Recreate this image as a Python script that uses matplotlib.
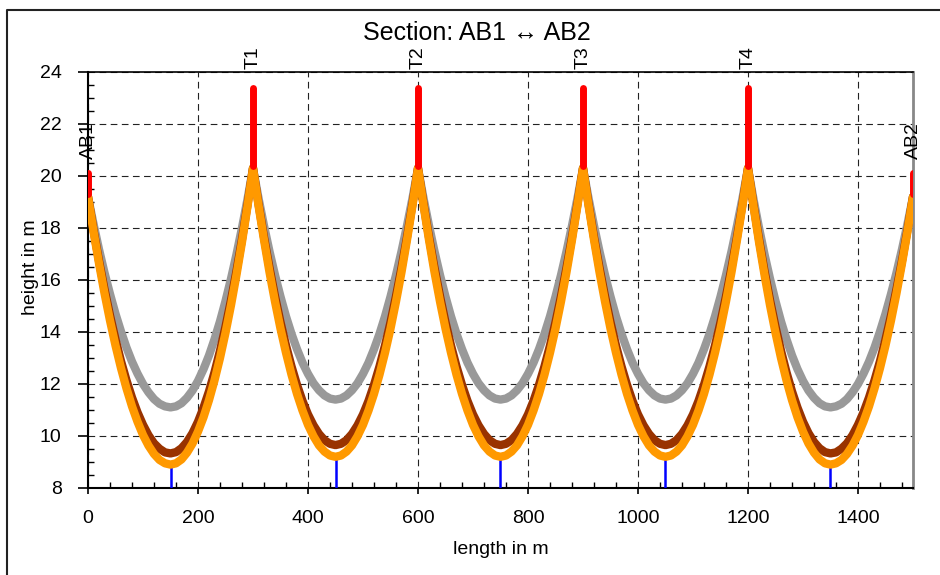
# Sag profile of the section AB1 <-> AB2 (three conductor states)

import numpy as np
import matplotlib.pyplot as plt
from matplotlib.lines import Line2D
from matplotlib.ticker import MultipleLocator

plt.rcParams['font.family'] = ['Liberation Sans', 'DejaVu Sans']

# supports
tower_x = [0, 300, 600, 900, 1200, 1500]
tower_names = ["AB1", "T1", "T2", "T3", "T4", "AB2"]
tower_top = [20.1, 23.4, 23.4, 23.4, 23.4, 20.1]
attach_height = [19.2, 20.3, 20.3, 20.3, 20.3, 19.2]

# heights read every 10 m along a 300 m span (offset from left support)
span_offsets = list(range(0, 301, 10))
# end span (AB1 -> T1), mirrored for T4 -> AB2
gray_end = [19.20, 18.16, 17.18, 16.28, 15.46, 14.70, 14.02, 13.40, 12.86, 12.40, 12.00, 11.68, 11.42, 11.24, 11.14, 11.10,
            11.14, 11.26, 11.47, 11.75, 12.12, 12.57, 13.10, 13.72, 14.41, 15.19, 16.05, 16.99, 18.01, 19.11, 20.30]
brown_end = [19.20, 17.93, 16.74, 15.65, 14.64, 13.72, 12.88, 12.14, 11.48, 10.91, 10.43, 10.03, 9.72, 9.51, 9.37, 9.33,
             9.38, 9.53, 9.77, 10.11, 10.55, 11.09, 11.72, 12.45, 13.28, 14.21, 15.23, 16.35, 17.57, 18.89, 20.30]
orange_end = [19.20, 17.87, 16.64, 15.49, 14.44, 13.48, 12.61, 11.83, 11.14, 10.55, 10.04, 9.63, 9.31, 9.08, 8.95, 8.90,
              8.95, 9.10, 9.36, 9.71, 10.17, 10.72, 11.38, 12.14, 13.00, 13.97, 15.03, 16.20, 17.46, 18.83, 20.30]
# inner spans (T1 -> T2 ... T3 -> T4)
gray_mid = [20.30, 19.15, 18.09, 17.10, 16.19, 15.36, 14.60, 13.93, 13.34, 12.82, 12.39, 12.03, 11.76, 11.56, 11.44, 11.40,
            11.44, 11.56, 11.76, 12.03, 12.39, 12.82, 13.34, 13.93, 14.60, 15.36, 16.19, 17.10, 18.09, 19.15, 20.30]
brown_mid = [20.30, 18.93, 17.65, 16.47, 15.38, 14.38, 13.48, 12.68, 11.97, 11.35, 10.83, 10.41, 10.08, 9.84, 9.70, 9.65,
             9.70, 9.84, 10.08, 10.41, 10.83, 11.35, 11.97, 12.68, 13.48, 14.38, 15.38, 16.47, 17.65, 18.93, 20.30]
orange_mid = [20.30, 18.87, 17.54, 16.30, 15.17, 14.13, 13.20, 12.36, 11.62, 10.98, 10.43, 9.99, 9.64, 9.40, 9.25, 9.20,
              9.25, 9.40, 9.64, 9.99, 10.43, 10.98, 11.62, 12.36, 13.20, 14.13, 15.17, 16.30, 17.54, 18.87, 20.30]

# lowest points (blue markers)
low_x = [150, 450, 750, 1050, 1350]
low_h = [8.88, 9.18, 9.18, 9.18, 8.88]


def build(end, mid):
    xs, ys = [], []
    profiles = [end, mid, mid, mid, end[::-1]]
    for i, prof in enumerate(profiles):
        xs.extend(tower_x[i] + np.array(span_offsets))
        ys.extend(prof)
    return np.array(xs), np.array(ys)


fig = plt.figure(figsize=(9.4, 5.75), dpi=100)
ax = fig.add_axes([88 / 940, 1 - 488 / 575, 825 / 940, 416 / 575])

gx, gy = build(gray_end, gray_mid)
bx, by = build(brown_end, brown_mid)
ox, oy = build(orange_end, orange_mid)

style = dict(lw=6, solid_capstyle='round', solid_joinstyle='round')
ax.plot(gx, gy, color='#999999', zorder=2, **style)
ax.plot(bx, by, color='#993300', zorder=3, **style)
ax.vlines(low_x, 8, low_h, color='#0000ff', lw=1.8, zorder=3.5)
ax.plot(ox, oy, color='#ff9900', zorder=4, **style)

for x, h0, h1, name in zip(tower_x, attach_height, tower_top, tower_names):
    ax.plot([x, x], [h0 + 0.1, h1], color='#ff0000', lw=5, solid_capstyle='round', zorder=5)
    off = 0.55 if name.startswith("AB") else 0.7
    ax.text(x, h1 + off, name, rotation=90, ha='center', va='bottom', fontsize=14, clip_on=False)

ax.set_xlim(0, 1500)
ax.set_ylim(8, 24)
ax.xaxis.set_major_locator(MultipleLocator(200))
ax.xaxis.set_minor_locator(MultipleLocator(40))
ax.yaxis.set_major_locator(MultipleLocator(2))
ax.yaxis.set_minor_locator(MultipleLocator(0.5))
ax.tick_params(axis='x', which='major', direction='out', length=4, width=1.2, pad=12, labelsize=14)
ax.tick_params(axis='y', which='major', direction='out', length=7, width=1.2, pad=12, labelsize=14)
ax.tick_params(which='minor', direction='in', length=4.5, width=1)
ax.set_axisbelow(True)
ax.grid(True, which='major', color='#222222', lw=0.8, linestyle=(0, (6, 4)))

for s in ['left', 'bottom']:
    ax.spines[s].set_linewidth(1.5)
ax.spines['top'].set_linewidth(1.2)
ax.spines['right'].set_color('#888888')
ax.spines['right'].set_linewidth(2)

ax.set_xlabel("length in m", fontsize=14)
ax.set_ylabel("height in m", fontsize=14)
ax.xaxis.set_label_coords(0.5, -0.128)
ax.yaxis.set_label_coords(-0.059, 0.53)

fig.text(477 / 940, 1 - 33 / 575, "Section: AB1 \u2194 AB2", ha='center', va='center', fontsize=18)

# outer frame (top and left edges)
fig.add_artist(Line2D([7 / 940, 7 / 940, 1.01], [-0.01, 1 - 10 / 575, 1 - 10 / 575],
                      transform=fig.transFigure, color='#222222', lw=1.5))

fig.savefig("out.png", dpi=100)
